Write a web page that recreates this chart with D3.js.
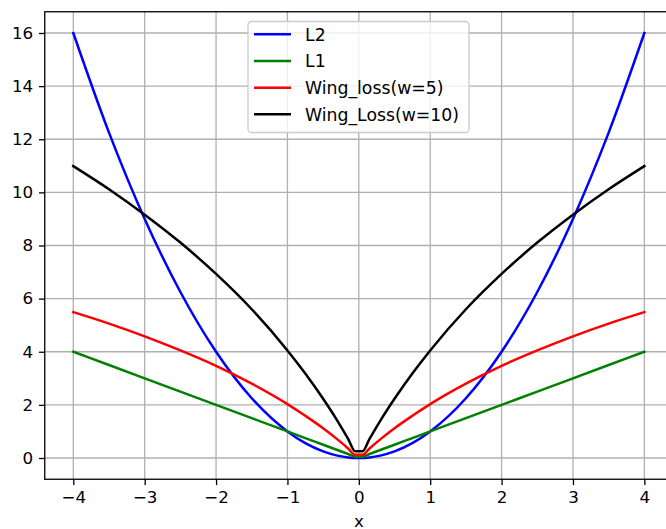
<!DOCTYPE html>
<html>
<head>
<meta charset="utf-8">
<script src="https://cdn.jsdelivr.net/npm/d3@7"></script>
<style>
  html, body { margin: 0; padding: 0; background: #fff; }
  svg { display: block; font-family: "DejaVu Sans", sans-serif; }
  .grid line { stroke: #b0b0b0; stroke-width: 1.3; }
</style>
</head>
<body>
<svg id="chart"></svg>
<script>
// ---- data ----
const xValues = [-4, -3.5, -3, -2.5, -2, -1.5, -1, -0.75, -0.5, -0.3, -0.15, -0.05,
                 0.05, 0.15, 0.3, 0.5, 0.75, 1, 1.5, 2, 2.5, 3, 3.5, 4];
const l2Values = [16, 12.25, 9, 6.25, 4, 2.25, 1, 0.56, 0.25, 0.09, 0.02, 0.0,
                  0.0, 0.02, 0.09, 0.25, 0.56, 1, 2.25, 4, 6.25, 9, 12.25, 16];
const l1Values = [4, 3.5, 3, 2.5, 2, 1.5, 1, 0.75, 0.5, 0.3, 0.15, 0.05,
                  0.05, 0.15, 0.3, 0.5, 0.75, 1, 1.5, 2, 2.5, 3, 3.5, 4];
const wing5Values = [5.49, 5.06, 4.58, 4.05, 3.47, 2.8, 2.03, 1.59, 1.12, 0.7, 0.36, 0.12,
                     0.12, 0.36, 0.7, 1.12, 1.59, 2.03, 2.8, 3.47, 4.05, 4.58, 5.06, 5.49];
const wing10Values = [10.99, 10.12, 9.16, 8.11, 6.93, 5.6, 4.05, 3.18, 2.23, 1.4, 0.72, 0.25,
                      0.25, 0.72, 1.4, 2.23, 3.18, 4.05, 5.6, 6.93, 8.11, 9.16, 10.12, 10.99];

const seriesNames = ["L2", "L1", "Wing_loss(w=5)", "Wing_Loss(w=10)"];
const seriesColors = ["#0000ff", "#008000", "#ff0000", "#000000"];
const xTicks = [-4, -3, -2, -1, 0, 1, 2, 3, 4];
const yTicks = [0, 2, 4, 6, 8, 10, 12, 14, 16];

// ---- setup ----
const width = 666, height = 529;
const svg = d3.select("#chart").attr("width", width).attr("height", height);

const plot = { left: 44.75, right: 672.9, top: 11.75, bottom: 479.25 };

const x = d3.scaleLinear().domain([-4.4, 4.4]).range([plot.left, plot.right]);
const y = d3.scaleLinear().domain([-0.8, 16.8]).range([plot.bottom, plot.top]);

const fmt = d => (d < 0 ? "\u2212" + Math.abs(d) : String(d));

// grid
const grid = svg.append("g").attr("class", "grid");
grid.selectAll(".vx").data(xTicks).enter().append("line")
  .attr("x1", d => x(d)).attr("x2", d => x(d))
  .attr("y1", plot.top).attr("y2", plot.bottom);
grid.selectAll(".hy").data(yTicks).enter().append("line")
  .attr("x1", plot.left).attr("x2", plot.right)
  .attr("y1", d => y(d)).attr("y2", d => y(d));

// lines
const series = [l2Values, l1Values, wing5Values, wing10Values];
const line = d3.line()
  .x((d, i) => x(xValues[i]))
  .y(d => y(d))
  .curve(d3.curveMonotoneX);

svg.append("g").selectAll("path").data(series).enter().append("path")
  .attr("d", d => line(d))
  .attr("fill", "none")
  .attr("stroke", (d, i) => seriesColors[i])
  .attr("stroke-width", 2.5)
  .attr("stroke-linejoin", "round")
  .attr("stroke-linecap", "square");

// axes
const xAxis = d3.axisBottom(x).tickValues(xTicks).tickFormat(fmt).tickSize(5.8).tickPadding(5.8);
const yAxis = d3.axisLeft(y).tickValues(yTicks).tickFormat(fmt).tickSize(5.8).tickPadding(5.8);

const gx = svg.append("g").attr("transform", `translate(0,${plot.bottom})`).call(xAxis);
const gy = svg.append("g").attr("transform", `translate(${plot.left},0)`).call(yAxis);
[gx, gy].forEach(g => {
  g.select(".domain").remove();
  g.selectAll(".tick line").attr("stroke", "#000").attr("stroke-width", 1.3);
  g.selectAll(".tick text").attr("fill", "#000").style("font-size", "16.7px")
    .style("font-family", "'DejaVu Sans', sans-serif");
});

// spines
svg.append("rect")
  .attr("x", plot.left).attr("y", plot.top)
  .attr("width", plot.right - plot.left).attr("height", plot.bottom - plot.top)
  .attr("fill", "none").attr("stroke", "#000").attr("stroke-width", 1.3);

// x label
svg.append("text")
  .attr("x", x(0)).attr("y", 526.5)
  .attr("text-anchor", "middle")
  .style("font-size", "16.7px")
  .text("x");

// legend
const legend = svg.append("g").attr("transform", "translate(248,21.5)");
legend.append("rect")
  .attr("width", 221).attr("height", 111)
  .attr("rx", 3.5)
  .attr("fill", "#fff").attr("fill-opacity", 0.8)
  .attr("stroke", "#cccccc").attr("stroke-width", 1.3);

const item = legend.selectAll(".item").data(seriesNames).enter().append("g")
  .attr("transform", (d, i) => `translate(0,${12.8 + i * 26.67})`);
item.append("line")
  .attr("x1", 6).attr("x2", 43)
  .attr("stroke", (d, i) => seriesColors[i])
  .attr("stroke-width", 2.5);
item.append("text")
  .attr("x", 57).attr("y", 6.2)
  .style("font-size", "17.3px")
  .text(d => d);
</script>
</body>
</html>
